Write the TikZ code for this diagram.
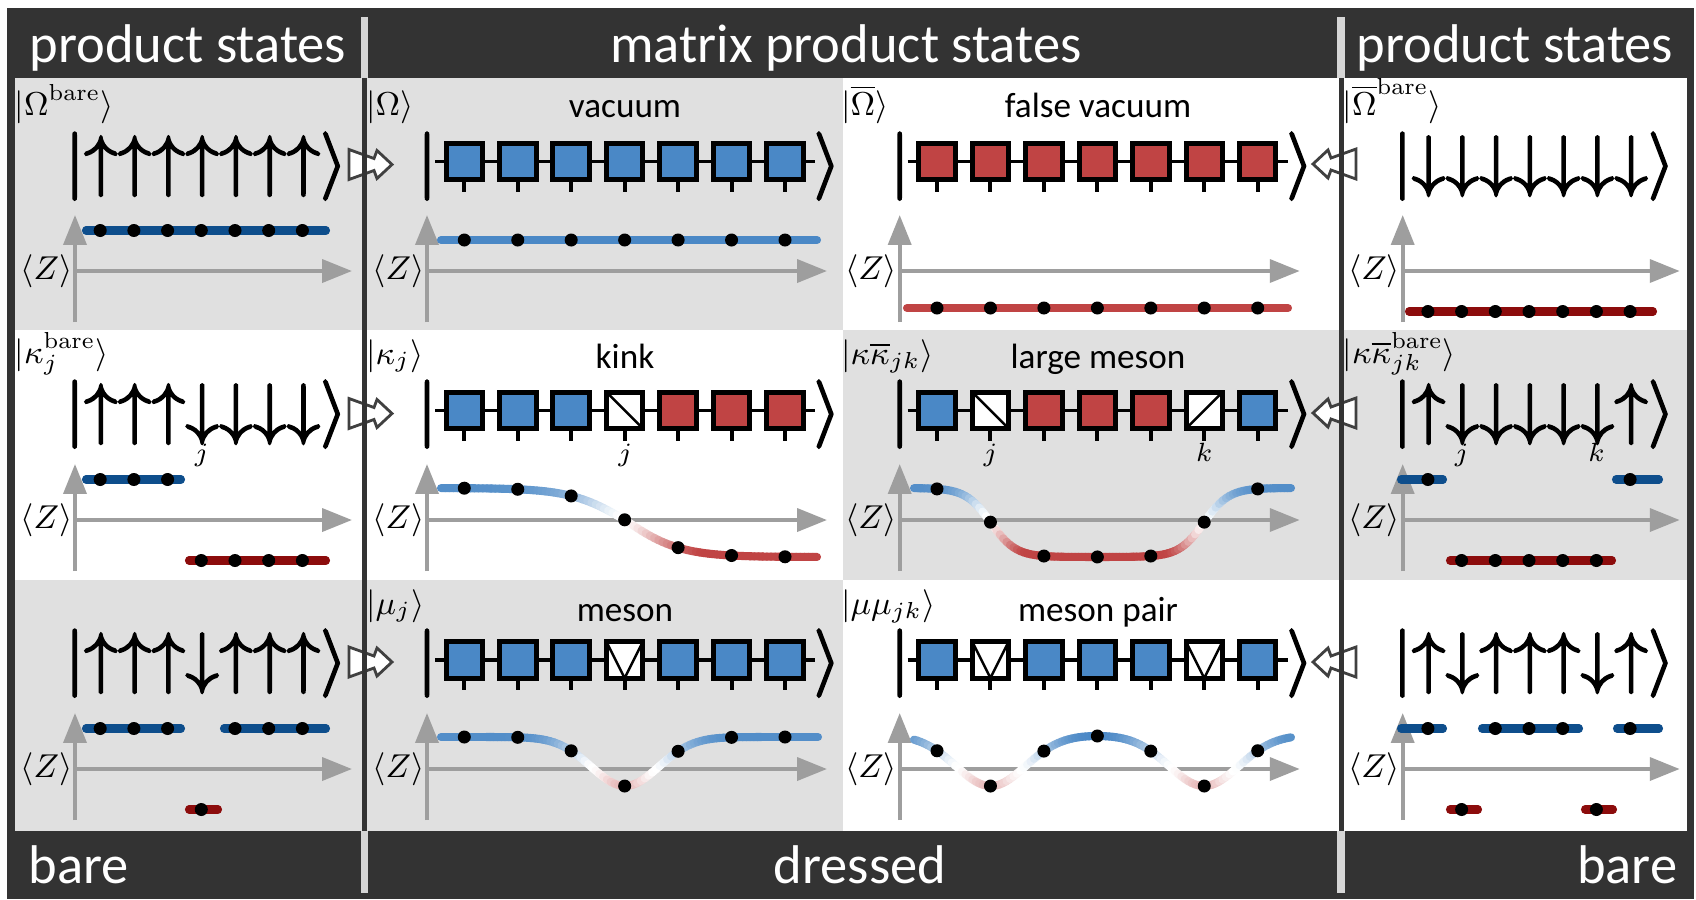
\RequirePackage{fix-cm}
\documentclass[tikz,border=0pt]{standalone}
\usepackage{fontspec}
\newfontfamily\hdfont{Carlito}
\usetikzlibrary{arrows.meta}
\definecolor{framegray}{RGB}{51,51,51}
\definecolor{panelgray}{RGB}{224,224,224}
\definecolor{divlight}{RGB}{214,214,214}
\definecolor{mpsblue}{RGB}{74,136,198}
\definecolor{mpsred}{RGB}{192,68,68}
\definecolor{bareblue}{RGB}{14,78,140}
\definecolor{barered}{RGB}{140,12,12}
\definecolor{axisgray}{RGB}{158,158,158}
\definecolor{arrowedge}{RGB}{64,64,64}
\newcommand{\upa}{{\uparrow}}
\newcommand{\dna}{{\downarrow}}
\newcommand{\heavy}[1]{\special{pdf:literal direct 2 Tr 0.55 w}#1\special{pdf:literal direct 0 Tr}}
\tikzset{
  hdr/.style={font=\hdfont\fontsize{15.5}{18}\selectfont, text=white, inner sep=0pt},
  ttl/.style={font=\hdfont\fontsize{10}{12}\selectfont, inner sep=0pt},
  lbl/.style={font=\fontsize{9.4}{11}\selectfont, inner sep=0pt},
  sublbl/.style={font=\fontsize{7.5}{9}\selectfont, inner sep=0pt},
  ket/.style={font=\fontsize{19.2}{23}\selectfont, inner sep=0pt},
  axisline/.style={draw=axisgray, line width=1.15pt, -{Triangle[length=8.5pt,width=6.5pt]}},
  bond/.style={line width=1pt},
  leg/.style={line width=1.15pt},
  sq/.style={line width=1.42pt, draw=black},
  diag/.style={line width=0.7pt},
  bareline/.style={line width=2.3pt, line cap=round},
  blockarrow/.style={fill=white, draw=arrowedge, line width=0.8pt, line join=miter},
}
% axes: name, axis x, tip x, axis y
\newcommand{\zaxes}[4]{%
  \draw[axisline] (#2,#4+51) -- (#2,#4-56);
  \draw[axisline] (#2,#4) -- (#3,#4);
  \node[lbl, anchor=east] (#1) at (#2-2,#4) {$\langle Z\rangle$};
}
% MPS squares
\newcommand{\mpsqb}[2]{\filldraw[sq, fill=mpsblue] (#1-18.25,#2-18.25) rectangle (#1+18.25,#2+18.25);}
\newcommand{\mpsqr}[2]{\filldraw[sq, fill=mpsred] (#1-18.25,#2-18.25) rectangle (#1+18.25,#2+18.25);}
\newcommand{\mpsqk}[2]{\filldraw[sq, fill=white] (#1-18.25,#2-18.25) rectangle (#1+18.25,#2+18.25);
  \draw[diag] (#1-18.25,#2-18.25) -- (#1+18.25,#2+18.25);}
\newcommand{\mpsqa}[2]{\filldraw[sq, fill=white] (#1-18.25,#2-18.25) rectangle (#1+18.25,#2+18.25);
  \draw[diag] (#1-18.25,#2+18.25) -- (#1+18.25,#2-18.25);}
\newcommand{\mpsqv}[2]{\filldraw[sq, fill=white] (#1-18.25,#2-18.25) rectangle (#1+18.25,#2+18.25);
  \draw[diag] (#1-18.25,#2-18.25) -- (#1,#2+18.25) -- (#1+18.25,#2-18.25);}
% chain: first site x, centre y, types
\newcommand{\mpschain}[3]{%
  \draw[bond] (#1-29.3,#2) -- (#1+350.7,#2);
  \foreach \s [count=\i from 0] in {#3}{%
    \pgfmathsetmacro{\cx}{#1+\i*53.45}
    \draw[leg] (\cx,#2) -- (\cx,#2+30.4);
    \csname mpsq\s\endcsname{\cx}{#2}
  }%
}
% dressed curve: x start, x end, axis y, function, steps
\newcommand{\dcurve}[5]{%
  \pgfmathsetmacro{\dstep}{(#2-#1)/#5}
  \foreach \k in {1,...,#5}{%
    \pgfmathsetmacro{\xa}{#1+(\k-1)*\dstep}
    \pgfmathsetmacro{\xb}{#1+\k*\dstep}
    \pgfmathsetmacro{\ya}{#3-#4(\xa)}
    \pgfmathsetmacro{\yb}{#3-#4(\xb)}
    \pgfmathsetmacro{\fm}{#4((\xa+\xb)/2)}
    \pgfmathtruncatemacro{\pc}{min(100,100*(abs(\fm)/33+0.001)^1.5)}
    \ifdim\fm pt>0pt \colorlet{segc}{mpsblue!\pc!white}\else\colorlet{segc}{mpsred!\pc!white}\fi
    \draw[line width=2.3pt, line cap=round, segc] (\xa,\ya) -- (\xb,\yb);
  }%
}
% dots on dressed curve: first x, axis y, function
\newcommand{\sitedots}[3]{%
  \foreach \i in {0,...,6}{%
    \pgfmathsetmacro{\px}{#1+\i*53.45}
    \pgfmathsetmacro{\py}{#2-#3(\px)}
    \fill (\px,\py) circle[radius=1.85pt];
  }%
}
% bare dots: first x, axis y, list u/d
\newcommand{\baredots}[3]{%
  \foreach \s [count=\i from 0] in {#3}{%
    \pgfmathsetmacro{\bx}{#1+\i*33.7}
    \if u\s \fill (\bx,#2-40.5) circle[radius=1.85pt];\else \fill (\bx,#2+40.5) circle[radius=1.85pt];\fi
  }%
}
\newcommand{\blockarrowR}[2]{\filldraw[blockarrow] (#1-43,#2-15) -- (#1-18,#2-6) -- (#1-15,#2-14) -- (#1,#2) -- (#1-15,#2+14) -- (#1-18,#2+6) -- (#1-43,#2+15) -- cycle;}
\newcommand{\blockarrowL}[2]{\filldraw[blockarrow] (#1+43,#2-15) -- (#1+18,#2-6) -- (#1+15,#2-14) -- (#1,#2) -- (#1+15,#2+14) -- (#1+18,#2+6) -- (#1+43,#2+15) -- cycle;}

\begin{document}
\begin{tikzpicture}[x=0.01cm,y=-0.01cm,
  declare function={
    kinkf(\x)=-34.5*tanh(max(-4,min(4,(\x-625)/55)))-2.5*abs(tanh(max(-4,min(4,(\x-625)/55))));
    lmesonf(\x)=32-34.5*(tanh(max(-4,min(4,(\x-990.7)/25)))-tanh(max(-4,min(4,(\x-1204)/25))));
    mesonf(\x)=32-49*exp(-min(((\x-625)/47.8)*((\x-625)/47.8),8));
    mpairf(\x)=34-51*(exp(-min(((\x-990.7)/49.5)*((\x-990.7)/49.5),8))+exp(-min(((\x-1204)/49.5)*((\x-1204)/49.5),8)));
  }]
\useasboundingbox (0,0) rectangle (1696,899);
\fill[white] (0,0) rectangle (1696,899);
\fill[framegray] (7,8) rectangle (1694,899);
% panels
\fill[panelgray] (15,78) rectangle (843,330);
\fill[white] (843,78) rectangle (1687,330);
\fill[white] (15,330) rectangle (843,580);
\fill[panelgray] (843,330) rectangle (1687,580);
\fill[panelgray] (15,580) rectangle (843,831);
\fill[white] (843,580) rectangle (1687,831);

% header / footer
\node[hdr, anchor=base] (hL) at (188,62) {product states};
\node[hdr, anchor=base] (hM) at (846,62) {matrix product states};
\node[hdr, anchor=base] (hR) at (1515,62) {product states};
\node[hdr, anchor=base west] (fL) at (28,883) {bare};
\node[hdr, anchor=base] (fM) at (860,883) {dressed};
\node[hdr, anchor=base east] (fR) at (1678,883) {bare};

% ---------- axes ----------
\zaxes{zL1}{75}{352}{271}   \zaxes{zML1}{427}{827}{271}   \zaxes{zMR1}{899.7}{1299.7}{271}   \zaxes{zR1}{1402.7}{1679.7}{271}
\zaxes{zL2}{75}{352}{520}   \zaxes{zML2}{427}{827}{520}   \zaxes{zMR2}{899.7}{1299.7}{520}   \zaxes{zR2}{1402.7}{1679.7}{520}
\zaxes{zL3}{75}{352}{769}   \zaxes{zML3}{427}{827}{769}   \zaxes{zMR3}{899.7}{1299.7}{769}   \zaxes{zR3}{1402.7}{1679.7}{769}

% ---------- bare lines ----------
\draw[bareline, bareblue] (86,230.5) -- (326,230.5);
\draw[bareline, barered] (1409,311.5) -- (1653,311.5);
\draw[bareline, bareblue] (86,479.5) -- (181,479.5);
\draw[bareline, barered] (189,560.5) -- (326,560.5);
\draw[bareline, bareblue] (1401,479.5) -- (1443,479.5);
\draw[bareline, barered] (1450,560.5) -- (1612,560.5);
\draw[bareline, bareblue] (1616,479.5) -- (1659,479.5);
\draw[bareline, bareblue] (86,728.5) -- (181,728.5);
\draw[bareline, barered] (189,809.5) -- (218,809.5);
\draw[bareline, bareblue] (224,728.5) -- (326,728.5);
\draw[bareline, bareblue] (1401,728.5) -- (1443,728.5);
\draw[bareline, barered] (1450,809.5) -- (1478,809.5);
\draw[bareline, bareblue] (1482,728.5) -- (1579,728.5);
\draw[bareline, barered] (1585,809.5) -- (1613,809.5);
\draw[bareline, bareblue] (1617,728.5) -- (1659,728.5);
\baredots{100.2}{271}{u,u,u,u,u,u,u}
\baredots{1427.9}{271}{d,d,d,d,d,d,d}
\baredots{100.2}{520}{u,u,u,d,d,d,d}
\baredots{1427.9}{520}{u,d,d,d,d,d,u}
\baredots{100.2}{769}{u,u,u,d,u,u,u}
\baredots{1427.9}{769}{u,d,u,u,u,d,u}

% ---------- dressed curves ----------
\draw[line width=2.3pt, line cap=round, mpsblue] (441,240) -- (817,240);
\draw[line width=2.3pt, line cap=round, mpsred] (907,308) -- (1288,308);
\foreach \i in {0,...,6}{\fill (464.3+\i*53.45,240) circle[radius=1.85pt];
  \fill (937+\i*53.45,308) circle[radius=1.85pt];}
\dcurve{441}{817}{520}{kinkf}{90}
\sitedots{464.3}{520}{kinkf}
\dcurve{914}{1291}{520}{lmesonf}{110}
\sitedots{937}{520}{lmesonf}
\dcurve{441}{818}{769}{mesonf}{100}
\sitedots{464.3}{769}{mesonf}
\dcurve{914}{1291}{769}{mpairf}{110}
\sitedots{937}{769}{mpairf}

% ---------- MPS chains ----------
\mpschain{464.3}{161.3}{b,b,b,b,b,b,b}
\mpschain{937}{161.3}{r,r,r,r,r,r,r}
\mpschain{464.3}{410.3}{b,b,b,k,r,r,r}
\mpschain{937}{410.3}{b,k,r,r,r,a,b}
\mpschain{464.3}{659.8}{b,b,b,v,b,b,b}
\mpschain{937}{659.8}{b,v,b,b,b,v,b}
\foreach \r/\yb in {1/183,2/431,3/680}{
  \node[ket, anchor=base] (mpsLa\r) at (427,\yb) {\heavy{$|$}};
  \node[ket, anchor=base] (mpsLb\r) at (827,\yb) {\heavy{$\rangle$}};
  \node[ket, anchor=base] (mpsRa\r) at (899.7,\yb) {\heavy{$|$}};
  \node[ket, anchor=base] (mpsRb\r) at (1299.7,\yb) {\heavy{$\rangle$}};
}

% ---------- bare kets ----------
\node[ket, anchor=base west] (ketL1) at (64.6,183) {\heavy{$|\upa\upa\upa\upa\upa\upa\upa\rangle$}};
\node[ket, anchor=base west] (ketR1) at (1392.3,183) {\heavy{$|\dna\dna\dna\dna\dna\dna\dna\rangle$}};
\node[ket, anchor=base west] (ketL2) at (64.6,431) {\heavy{$|\upa\upa\upa\dna\dna\dna\dna\rangle$}};
\node[ket, anchor=base west] (ketR2) at (1392.3,431) {\heavy{$|\upa\dna\dna\dna\dna\dna\upa\rangle$}};
\node[ket, anchor=base west] (ketL3) at (64.6,680) {\heavy{$|\upa\upa\upa\dna\upa\upa\upa\rangle$}};
\node[ket, anchor=base west] (ketR3) at (1392.3,680) {\heavy{$|\upa\dna\upa\upa\upa\dna\upa\rangle$}};

% site labels
\node[sublbl, anchor=base] (jL2) at (201.7,461) {$j$};
\node[sublbl, anchor=base] (jML2) at (625,461) {$j$};
\node[sublbl, anchor=base] (jMR2) at (990.4,461) {$j$};
\node[sublbl, anchor=base] (kMR2) at (1204.2,461) {$k$};
\node[sublbl, anchor=base] (jR2) at (1461.6,461) {$j$};
\node[sublbl, anchor=base] (kR2) at (1596.4,461) {$k$};

% titles
\node[ttl, anchor=base] (tML1) at (625,117) {vacuum};
\node[ttl, anchor=base] (tMR1) at (1098,117) {false vacuum};
\node[ttl, anchor=base] (tML2) at (625,368) {kink};
\node[ttl, anchor=base] (tMR2) at (1098,368) {large meson};
\node[ttl, anchor=base] (tML3) at (625,621) {meson};
\node[ttl, anchor=base] (tMR3) at (1098,621) {meson pair};

% state labels
\node[lbl, anchor=base west] (sL1) at (14,115) {$|\Omega^{\mathrm{bare}}\rangle$};
\node[lbl, anchor=base west] (sML1) at (365.5,115) {$|\Omega\rangle$};
\node[lbl, anchor=base west] (sMR1) at (840.5,115) {$|\overline{\Omega}\rangle$};
\node[lbl, anchor=base west] (sR1) at (1342,115) {$|\overline{\Omega}^{\mathrm{bare}}\rangle$};
\node[lbl, anchor=base west] (sL2) at (14,363) {$|\kappa_j^{\mathrm{bare}}\rangle$};
\node[lbl, anchor=base west] (sML2) at (365.5,364) {$|\kappa_j\rangle$};
\node[lbl, anchor=base west] (sMR2) at (840.5,364) {$|\kappa\overline{\kappa}_{jk}\rangle$};
\node[lbl, anchor=base west] (sR2) at (1342,363) {$|\kappa\overline{\kappa}_{jk}^{\mathrm{bare}}\rangle$};
\node[lbl, anchor=base west] (sML3) at (365.5,614) {$|\mu_j\rangle$};
\node[lbl, anchor=base west] (sMR3) at (840.5,614) {$|\mu\mu_{jk}\rangle$};

% block arrows
\blockarrowR{392}{164.5}
\blockarrowR{392}{413.5}
\blockarrowR{392}{662}
\blockarrowL{1313}{164}
\blockarrowL{1313}{413}
\blockarrowL{1313}{662}

% dividers
\draw[framegray, line width=1.42pt] (364.5,78) -- (364.5,831);
\draw[framegray, line width=1.42pt] (1341,78) -- (1341,831);
\draw[divlight, line width=2pt] (364.5,17) -- (364.5,78);
\draw[divlight, line width=2pt] (364.5,831) -- (364.5,893);
\draw[divlight, line width=2pt] (1341,17) -- (1341,78);
\draw[divlight, line width=2pt] (1341,831) -- (1341,893);
\end{tikzpicture}
\end{document}
